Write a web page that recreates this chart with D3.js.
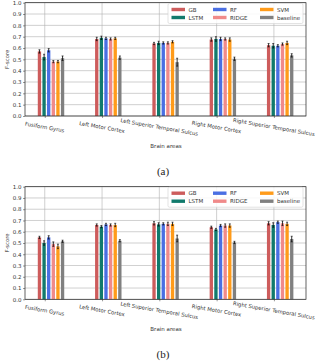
<!DOCTYPE html>
<html>
<head>
<meta charset="utf-8">
<script src="https://cdn.jsdelivr.net/npm/d3@7"></script>
<style>
  body { margin: 0; background: #fff; }
  svg text { font-family: "DejaVu Sans", sans-serif; }
</style>
</head>
<body>
<div id="chart"></div>
<script>
// Brain areas (x categories) and models (series)
const areas = [
  "Fusiform Gyrus",
  "Left Motor Cortex",
  "Left Superior Temporal Sulcus",
  "Right Motor Cortex",
  "Right Superior Temporal Sulcus",
];
const models = ["GB", "LSTM", "RF", "RIDGE", "SVM", "baseline"];
const modelColors = ["#cd5c5c", "#117a6c", "#4a6fe3", "#f08a8a", "#ff9b1a", "#808080"];
const yTicks = [0, 0.1, 0.2, 0.3, 0.4, 0.5, 0.6, 0.7, 0.8, 0.9, 1.0];

// panel (a): mean F-score per model, one value per area
const meanA = [
  [0.57, 0.68, 0.64, 0.675, 0.625],
  [0.52, 0.69, 0.645, 0.68, 0.62],
  [0.58, 0.685, 0.645, 0.68, 0.62],
  [0.48, 0.68, 0.645, 0.68, 0.635],
  [0.48, 0.685, 0.655, 0.675, 0.645],
  [0.51, 0.515, 0.475, 0.505, 0.535],
];
const errA = [
  [0.015, 0.015, 0.01, 0.015, 0.015],
  [0.025, 0.015, 0.015, 0.02, 0.02],
  [0.015, 0.01, 0.01, 0.015, 0.01],
  [0.01, 0.01, 0.01, 0.01, 0.01],
  [0.01, 0.01, 0.01, 0.015, 0.015],
  [0.02, 0.015, 0.035, 0.015, 0.015],
];

// panel (b)
const meanB = [
  [0.55, 0.66, 0.675, 0.64, 0.675],
  [0.5, 0.645, 0.665, 0.62, 0.66],
  [0.55, 0.665, 0.67, 0.655, 0.685],
  [0.49, 0.66, 0.67, 0.655, 0.675],
  [0.47, 0.66, 0.67, 0.655, 0.67],
  [0.515, 0.52, 0.54, 0.505, 0.535],
];
const errB = [
  [0.01, 0.01, 0.015, 0.01, 0.015],
  [0.02, 0.01, 0.015, 0.01, 0.02],
  [0.015, 0.01, 0.01, 0.01, 0.01],
  [0.02, 0.01, 0.015, 0.015, 0.02],
  [0.02, 0.015, 0.015, 0.015, 0.015],
  [0.01, 0.01, 0.03, 0.01, 0.025],
];

const W = 319, H = 361;
const svg = d3.select("#chart").append("svg")
  .attr("width", W).attr("height", H)
  .attr("viewBox", `0 0 ${W} ${H}`);

const step = 0.0807;     // bar step in group units
const barW = 0.058;      // bar width in group units
const tickShift = 1.15;  // tick sits between LSTM and RF

function drawPanel(top, bottom, means, errs, caption, legendTop) {
  const x = d3.scaleLinear().domain([-0.345, 4.56]).range([25, 306]);
  const y = d3.scaleLinear().domain([0, 1]).range([bottom, top]);
  const g = svg.append("g");

  // grid
  g.selectAll(".hgrid").data(yTicks).enter().append("line")
    .attr("x1", x.range()[0]).attr("x2", x.range()[1])
    .attr("y1", (d) => y(d)).attr("y2", (d) => y(d))
    .attr("stroke", "#b0b0b0").attr("stroke-width", 0.6);
  g.selectAll(".vgrid").data(areas).enter().append("line")
    .attr("x1", (d, i) => x(i)).attr("x2", (d, i) => x(i))
    .attr("y1", top).attr("y2", bottom)
    .attr("stroke", "#b0b0b0").attr("stroke-width", 0.6);

  // bars
  models.forEach((m, k) => {
    const off = (k - tickShift) * step;
    const bw = x(barW) - x(0);
    g.selectAll(`.bar${k}`).data(means[k]).enter().append("rect")
      .attr("x", (d, i) => x(i + off) - bw / 2)
      .attr("width", bw)
      .attr("y", (d) => y(d))
      .attr("height", (d) => y(0) - y(d))
      .attr("fill", modelColors[k]);
    // error bars
    means[k].forEach((d, i) => {
      const cx = x(i + off);
      const e = errs[k][i];
      g.append("line").attr("x1", cx).attr("x2", cx)
        .attr("y1", y(d - e)).attr("y2", y(d + e))
        .attr("stroke", "#000").attr("stroke-width", 0.8);
      [d - e, d + e].forEach((v) => {
        g.append("line").attr("x1", cx - 1).attr("x2", cx + 1)
          .attr("y1", y(v)).attr("y2", y(v))
          .attr("stroke", "#000").attr("stroke-width", 0.6);
      });
    });
  });

  // axes
  const yAxis = g.append("g")
    .attr("transform", `translate(${x.range()[0]},0)`)
    .call(d3.axisLeft(y).tickValues(yTicks).tickFormat(d3.format(".1f")).tickSize(2).tickPadding(1.5));
  yAxis.select(".domain").remove();
  yAxis.selectAll("text").attr("font-size", "5.5px").attr("fill", "#333");
  yAxis.selectAll("line").attr("stroke", "#333").attr("stroke-width", 0.5);

  const xAxis = g.append("g")
    .attr("transform", `translate(0,${bottom})`)
    .call(d3.axisBottom(x).tickValues(d3.range(areas.length)).tickFormat("").tickSize(2));
  xAxis.select(".domain").remove();
  xAxis.selectAll("line").attr("stroke", "#333").attr("stroke-width", 0.5);

  g.selectAll(".xlab").data(areas).enter().append("text")
    .attr("transform", (d, i) => `translate(${x(i)},${bottom + 11}) rotate(10)`)
    .attr("text-anchor", "middle")
    .attr("dominant-baseline", "central")
    .attr("font-size", "5.3px").attr("fill", "#333")
    .text((d) => d);

  // frame
  g.append("rect")
    .attr("x", x.range()[0]).attr("y", top)
    .attr("width", x.range()[1] - x.range()[0]).attr("height", bottom - top)
    .attr("fill", "none").attr("stroke", "#222").attr("stroke-width", 0.7);

  // axis titles
  g.append("text")
    .attr("transform", `translate(7,${(top + bottom) / 2}) rotate(-90)`)
    .attr("text-anchor", "middle").attr("dominant-baseline", "central")
    .attr("font-size", "5.3px").attr("fill", "#333").text("F-score");
  g.append("text")
    .attr("x", 166).attr("y", bottom + 30)
    .attr("text-anchor", "middle").attr("dominant-baseline", "central")
    .attr("font-size", "5.5px").attr("fill", "#333").text("Brain areas");
  g.append("text")
    .attr("x", 163).attr("y", bottom + 55)
    .attr("text-anchor", "middle").attr("dominant-baseline", "central")
    .style("font-family", "'Liberation Serif', serif")
    .attr("font-size", "11px").attr("fill", "#222").text(caption);

  // legend
  const lg = g.append("g").attr("transform", `translate(168,${legendTop})`);
  lg.append("rect").attr("width", 135).attr("height", 20).attr("rx", 1.5)
    .attr("fill", "#fff").attr("fill-opacity", 0.85)
    .attr("stroke", "#d0d0d0").attr("stroke-width", 0.6);
  const colX = [3.5, 45, 92];
  models.forEach((m, k) => {
    const col = Math.floor(k / 2), row = k % 2;
    const ex = colX[col], ey = 6 + row * 8;
    lg.append("rect").attr("x", ex).attr("y", ey - 1.7)
      .attr("width", 13.5).attr("height", 3.4).attr("fill", modelColors[k]);
    lg.append("text").attr("x", ex + 17).attr("y", ey)
      .attr("dominant-baseline", "central")
      .attr("font-size", "5.5px").attr("fill", "#333").text(m);
  });
}

drawPanel(2.7, 116, meanA, errA, "(a)", 3.5);
drawPanel(186.7, 299.3, meanB, errB, "(b)", 187.2);
</script>
</body>
</html>
